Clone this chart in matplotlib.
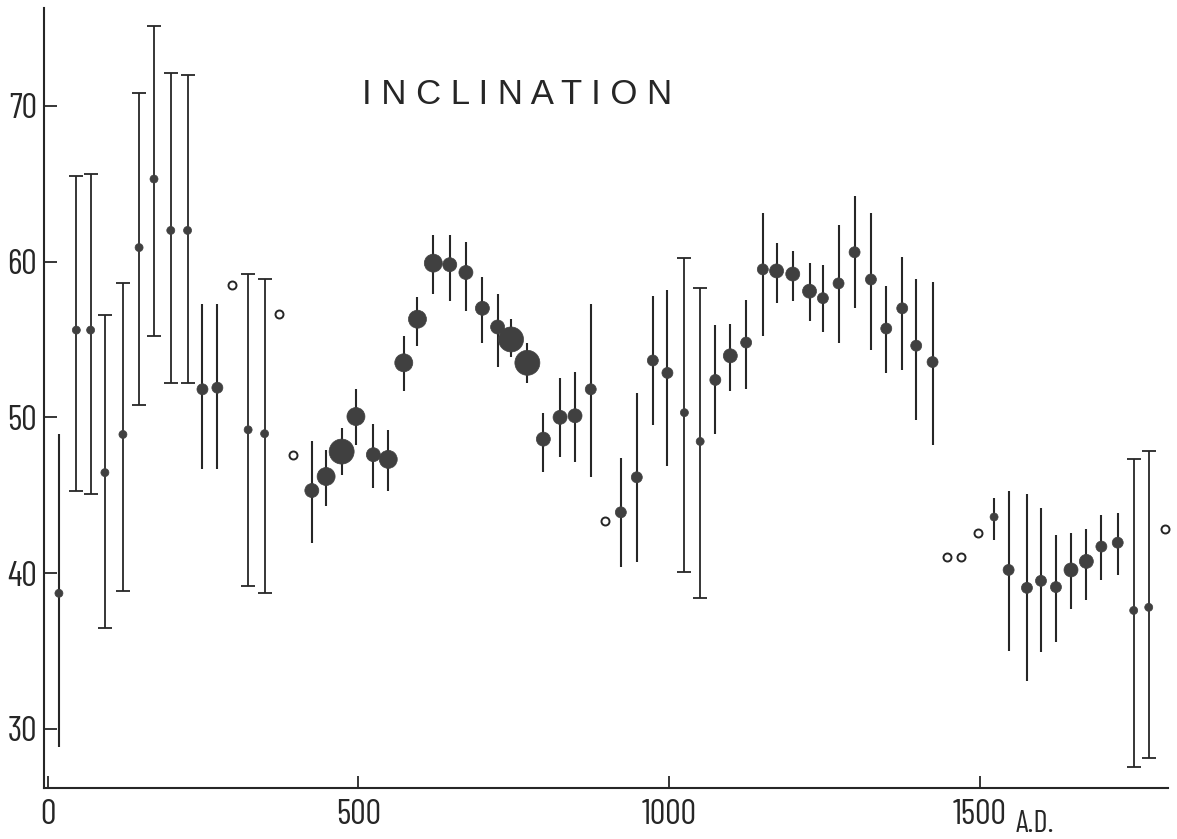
import numpy as np
import matplotlib
matplotlib.use('Agg')
import matplotlib.pyplot as plt

# Archaeomagnetic inclination, years A.D.
years = [18, 46, 69, 92, 121, 147, 171, 198, 225, 249, 273, 322.5, 349,
         425, 448, 473, 496, 524, 548, 573, 595, 620.5, 647, 673, 699.5,
         724, 745.6, 771.9, 797.6, 824.5, 848.6, 873.9, 922.3, 948, 973.8,
         997.3, 1024.6, 1050, 1074.4, 1098.5, 1124, 1150.8, 1173, 1199,
         1226, 1247.5, 1272.7, 1298.5, 1324.8, 1349.5, 1375.2, 1397.7, 1424,
         1523, 1546.4, 1575.9, 1598.5, 1622.6, 1646.8, 1671.5, 1695.7, 1722,
         1747.7, 1771.9]
incl = [38.7, 55.6, 55.6, 46.45, 48.9, 60.9, 65.3, 62.0, 62.0, 51.8, 51.9,
        49.2, 48.95, 45.3, 46.2, 47.8, 50.05, 47.6, 47.3, 53.5, 56.3, 59.9,
        59.8, 59.3, 57.0, 55.8, 55.0, 53.5, 48.6, 50.0, 50.1, 51.8, 43.9,
        46.15, 53.65, 52.85, 50.3, 48.45, 52.4, 53.95, 54.8, 59.5, 59.4,
        59.2, 58.1, 57.65, 58.6, 60.6, 58.85, 55.7, 57.0, 54.6, 53.55, 43.6,
        40.2, 39.05, 39.5, 39.1, 40.2, 40.75, 41.7, 41.95, 37.6, 37.8]
incl_lo = [28.8, 45.3, 45.1, 36.45, 38.85, 50.8, 55.25, 52.2, 52.2, 46.7,
           46.7, 39.2, 38.7, 41.9, 44.3, 46.3, 48.2, 45.45, 45.3, 51.7, 54.6,
           57.9, 57.45, 56.8, 54.8, 53.2, 53.9, 52.2, 46.5, 47.45, 47.15, 46.2,
           40.4, 40.7, 49.5, 46.85, 40.1, 38.4, 48.9, 51.7, 51.8, 55.2, 57.35,
           57.5, 56.2, 55.45, 54.8, 57.0, 54.35, 52.85, 53.05, 49.8, 48.2,
           42.15, 35.0, 33.1, 34.9, 35.6, 37.7, 38.3, 39.55, 39.85, 27.55, 28.1]
incl_hi = [48.9, 65.5, 65.6, 56.6, 58.6, 70.8, 75.15, 72.1, 72.0, 57.3, 57.3,
           59.2, 58.85, 48.45, 47.9, 49.3, 51.8, 49.6, 49.2, 55.2, 57.7, 61.7,
           61.7, 61.25, 59.0, 57.95, 56.3, 54.8, 50.25, 52.5, 52.9, 57.25,
           47.4, 51.55, 57.8, 58.15, 60.25, 58.3, 55.9, 56.0, 57.55, 63.1,
           61.2, 60.7, 59.9, 59.8, 62.35, 64.2, 63.1, 58.4, 60.3, 58.85, 58.7,
           44.85, 45.3, 45.1, 44.15, 42.45, 42.6, 42.8, 43.7, 43.85, 47.35,
           47.85]
# symbol size class (1 = smallest, 5 = largest)
size_class = [1, 1, 1, 1, 1, 1, 1, 1, 1, 2, 2, 1, 1,
              3, 4, 5, 4, 3, 4, 4, 4, 4, 3, 3, 3,
              3, 5, 5, 3, 3, 3, 2, 2, 2, 2,
              2, 1, 1, 2, 3, 2, 2, 3, 3,
              3, 2, 2, 2, 2, 2, 2, 2, 2,
              1, 2, 2, 2, 2, 3, 3, 2, 2,
              1, 1]
# error bar drawn with end caps
capped = [0, 1, 1, 1, 1, 1, 1, 1, 1, 0, 0, 1, 1,
          0, 0, 0, 0, 0, 0, 0, 0, 0, 0, 0, 0,
          0, 0, 0, 0, 0, 0, 0, 0, 0, 0,
          0, 1, 1, 0, 0, 0, 0, 0, 0,
          0, 0, 0, 0, 0, 0, 0, 0, 0,
          0, 0, 0, 0, 0, 0, 0, 0, 0,
          1, 1]

# single determinations without error estimate (open circles)
open_years = [297, 372.5, 395, 897, 1447, 1470, 1496.5, 1798.7]
open_incl = [58.5, 56.65, 47.6, 43.35, 41.05, 41.05, 42.55, 42.8]

x = np.array(years)
y = np.array(incl)
err = np.vstack([y - np.array(incl_lo), np.array(incl_hi) - y])
cap = np.array(capped, dtype=bool)
diam_px = {1: 8, 2: 11, 3: 14, 4: 18, 5: 25}
s = np.array([(diam_px[c] * 0.72) ** 2 for c in size_class])

INK = '#262626'
DOT = '#404040'
TICK_FONT = ['Barlow Condensed', 'Saira Condensed', 'Liberation Sans Narrow',
             'DejaVu Sans']

fig = plt.figure(figsize=(11.77, 8.39), dpi=100)
ax = fig.add_axes([0.0374, 0.0608, 0.955, 0.93])

ax.errorbar(x[~cap], y[~cap], yerr=err[:, ~cap], fmt='none',
            ecolor=INK, elinewidth=1.5, capsize=0)
ax.errorbar(x[cap], y[cap], yerr=err[:, cap], fmt='none',
            ecolor=INK, elinewidth=1.3, capsize=5, capthick=1.3)
ax.scatter(x, y, s=s, color=DOT, edgecolors=DOT, linewidths=0.5, zorder=3)
ax.scatter(open_years, open_incl, s=(8 * 0.72) ** 2, facecolors='white',
           edgecolors=INK, linewidths=1.4, zorder=3, clip_on=False)

ax.set_xlim(-6, 1803)
ax.set_ylim(26.2, 76.3)
ax.set_xticks([0, 500, 1000, 1500])
ax.set_yticks([30, 40, 50, 60, 70])
ax.tick_params(direction='in', length=9, width=1.3, colors=INK)
ax.tick_params(axis='y', pad=5)
ax.tick_params(axis='x', pad=8)
for lab in ax.get_xticklabels() + ax.get_yticklabels():
    lab.set_family(TICK_FONT)
    lab.set_fontsize(25)
    lab.set_fontweight('normal')
    lab.set_color(INK)

for side in ['top', 'right']:
    ax.spines[side].set_visible(False)
for side in ['left', 'bottom']:
    ax.spines[side].set_linewidth(1.5)
    ax.spines[side].set_color(INK)

ax.text(755, 70.75, 'I N C L I N A T I O N', ha='center', va='center',
        fontsize=25, family=['Liberation Sans', 'DejaVu Sans'], color=INK)
ax.text(1589, 23.35, 'A.D.', ha='center', va='baseline', fontsize=22,
        family=TICK_FONT, color=INK)

fig.savefig('out.png', dpi=100, facecolor='white')
